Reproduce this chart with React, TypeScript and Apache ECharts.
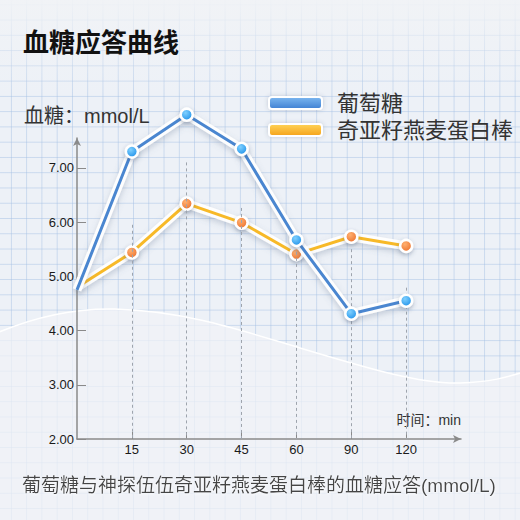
import React, { useEffect, useRef } from 'react';
import * as echarts from 'echarts';

const categories = ['0', '15', '30', '45', '60', '90', '120', ''];
const glucose = [4.75, 7.3, 7.98, 7.35, 5.67, 4.31, 4.55];
const oatBar = [4.8, 5.44, 6.34, 5.99, 5.41, 5.73, 5.56];
const dropTops = [null, 5.95, 7.1, 6.26, 5.45, 5.5, 4.79];
const yTicks = [2, 3, 4, 5, 6, 7];
const seriesNames = ['葡萄糖', '奇亚籽燕麦蛋白棒'];
const titleText = '血糖应答曲线';
const yName = '血糖：mmol/L';
const xName = '时间：min';
const caption = '葡萄糖与神探伍伍奇亚籽燕麦蛋白棒的血糖应答(mmol/L)';

const WAVE =
  'M-10,336 C30,318 70,308 115,309 C185,311 240,330 300,348 C370,369 420,384 460,383 C490,382 505,378 530,370 L530,530 L-10,530 Z';

let registered = false;
function registerWave() {
  if (registered) return;
  echarts.graphic.registerShape('wave', echarts.graphic.extendPath(WAVE, {}) as any);
  registered = true;
}

const FONT = "'Liberation Sans', 'Noto Sans CJK SC', sans-serif";

function toItems(arr: number[]) {
  return arr.map((v, i) => (i === 0 ? { value: v, symbol: 'none' } : v));
}

export default function App() {
  const ref = useRef<HTMLDivElement>(null);
  useEffect(() => {
    document.body.style.margin = '0';
    registerWave();
    const chart = echarts.init(ref.current!, null, { renderer: 'svg' });

    const blueMarker = new echarts.graphic.RadialGradient(0.4, 0.35, 0.75, [
      { offset: 0, color: '#7fd0ff' },
      { offset: 1, color: '#158ae6' },
    ]);
    const orangeMarker = new echarts.graphic.RadialGradient(0.4, 0.35, 0.75, [
      { offset: 0, color: '#ffb070' },
      { offset: 1, color: '#ea6a25' },
    ]);
    const blueLegend = new echarts.graphic.LinearGradient(0, 0, 0, 1, [
      { offset: 0, color: '#7db8f0' },
      { offset: 1, color: '#3f80d2' },
    ]);
    const orangeLegend = new echarts.graphic.LinearGradient(0, 0, 0, 1, [
      { offset: 0, color: '#ffd458' },
      { offset: 1, color: '#f5a21a' },
    ]);

    const drops = dropTops
      .map((t, i) => (t == null ? null : [{ coord: [i, t] }, { coord: [i, 2] }]))
      .filter(Boolean);

    const halo = (name: string, data: number[], z: number) => ({
      name,
      type: 'line',
      data,
      z,
      silent: true,
      clip: false,
      symbol: 'none',
      lineStyle: {
        color: 'rgba(255,255,255,0.95)',
        width: 9,
        shadowColor: 'rgba(90,110,140,0.3)',
        shadowBlur: 6,
        shadowOffsetY: 3,
      },
    });

    const main = (name: string, data: number[], color: string, marker: any, z: number) => ({
      name,
      type: 'line',
      data: toItems(data),
      z,
      clip: false,
      symbol: 'circle',
      symbolSize: 12,
      lineStyle: { color, width: 3 },
      itemStyle: {
        color: marker,
        borderColor: '#ffffff',
        borderWidth: 2.5,
        shadowColor: 'rgba(60,80,110,0.35)',
        shadowBlur: 4,
        shadowOffsetY: 2,
      },
    });

    chart.setOption({
      animation: false,
      backgroundColor: 'transparent',
      textStyle: { fontFamily: FONT },
      graphic: [
        {
          type: 'rect',
          z: -10,
          silent: true,
          shape: { x: 0, y: 0, width: 520, height: 95 },
          style: {
            fill: new echarts.graphic.LinearGradient(0, 0, 0, 1, [
              { offset: 0, color: 'rgba(241,243,246,0.95)' },
              { offset: 1, color: 'rgba(241,243,246,0)' },
            ]),
          },
        },
        {
          type: 'wave',
          z: -9,
          silent: true,
          x: 0,
          y: 0,
          shape: {},
          style: { fill: 'rgba(241,243,246,0.72)', stroke: '#ffffff', lineWidth: 1.5 },
        },
      ],
      title: [
        {
          text: titleText,
          left: 18,
          top: 25,
          textStyle: { fontSize: 26, fontWeight: 'bold', color: '#111', fontFamily: FONT },
        },
        {
          text: yName,
          left: 19,
          top: 101,
          textStyle: { fontSize: 20, fontWeight: 'normal', color: '#333', fontFamily: FONT },
        },
        {
          text: caption,
          left: 17,
          top: 471,
          textStyle: {
            fontSize: 19,
            fontWeight: 'normal',
            color: '#444',
            fontFamily: FONT,
            textShadowColor: '#ffffff',
            textShadowBlur: 2,
            textShadowOffsetY: 1,
          },
        },
      ],
      legend: {
        left: 263,
        top: 87,
        orient: 'vertical',
        itemWidth: 53,
        itemHeight: 12,
        itemGap: 5,
        selectedMode: false,
        textStyle: { fontSize: 22, lineHeight: 22, color: '#333', padding: [0, 0, 0, 10], fontFamily: FONT },
        data: [
          {
            name: seriesNames[0],
            icon: 'roundRect',
            itemStyle: {
              color: blueLegend,
              borderColor: '#ffffff',
              borderWidth: 2,
              shadowColor: 'rgba(60,80,110,0.25)',
              shadowBlur: 4,
            },
          },
          {
            name: seriesNames[1],
            icon: 'roundRect',
            itemStyle: {
              color: orangeLegend,
              borderColor: '#ffffff',
              borderWidth: 2,
              shadowColor: 'rgba(60,80,110,0.25)',
              shadowBlur: 4,
            },
          },
        ],
      },
      grid: { left: 77, right: 59, top: 138, bottom: 81, containLabel: false },
      xAxis: {
        type: 'category',
        data: categories,
        boundaryGap: false,
        name: xName,
        nameLocation: 'end',
        nameGap: 0,
        nameTextStyle: {
          align: 'right',
          verticalAlign: 'bottom',
          padding: [0, 0, 12, 0],
          fontSize: 14,
          color: '#333',
          fontFamily: FONT,
        },
        axisLine: {
          lineStyle: { color: '#8a8a8a', width: 1.5 },
          symbol: ['none', 'arrow'],
          symbolSize: [6, 8],
        },
        axisTick: {
          inside: true,
          length: 7,
          interval: (index: number, value: string) => index > 0 && value !== '',
          lineStyle: { color: '#8a8a8a' },
        },
        axisLabel: {
          interval: (index: number, value: string) => index > 0 && value !== '',
          margin: 4,
          fontSize: 13,
          color: '#1a1a1a',
          fontFamily: FONT,
        },
        splitLine: { show: false },
      },
      yAxis: {
        type: 'value',
        min: 2,
        max: 7.55,
        axisLine: {
          show: true,
          lineStyle: { color: '#8a8a8a', width: 1.5 },
          symbol: ['none', 'arrow'],
          symbolSize: [6, 8],
        },
        axisTick: {
          show: true,
          inside: true,
          length: 9,
          customValues: yTicks,
          lineStyle: { color: '#8a8a8a' },
        },
        axisLabel: {
          customValues: yTicks,
          formatter: (v: number) => v.toFixed(2),
          margin: 3,
          fontSize: 13,
          color: '#1a1a1a',
          fontFamily: FONT,
        },
        splitLine: { show: false },
      },
      series: [
        {
          name: 'drops',
          type: 'line',
          data: [],
          silent: true,
          z: 1,
          markLine: {
            silent: true,
            symbol: 'none',
            label: { show: false },
            lineStyle: { color: '#9ea4ad', width: 1, type: [3, 3] },
            data: drops,
          },
        },
        halo('halo-oat', oatBar, 2),
        main(seriesNames[1], oatBar, '#f7b928', orangeMarker, 3),
        halo('halo-glucose', glucose, 4),
        main(seriesNames[0], glucose, '#4a86d0', blueMarker, 5),
      ],
    });
    return () => chart.dispose();
  }, []);

  const bg: React.CSSProperties = {
    width: 520,
    height: 520,
    overflow: 'hidden',
    backgroundColor: '#edf1f7',
    backgroundImage:
      'linear-gradient(to right, rgba(165,192,228,0.5) 1px, transparent 1px), linear-gradient(to bottom, rgba(165,192,228,0.5) 1px, transparent 1px)',
    backgroundSize: '15.27px 15.27px',
    backgroundPosition: '10.9px 4.3px',
  };

  return <div ref={ref} style={bg} />;
}
